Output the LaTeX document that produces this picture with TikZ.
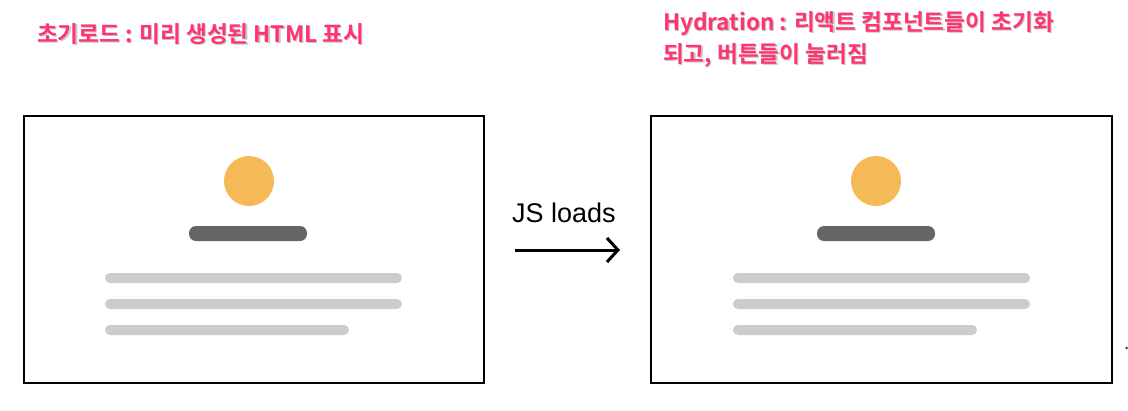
\documentclass[tikz,border=0pt]{standalone}
\usepackage{fontspec}
\setmainfont{Liberation Sans}
\newfontfamily\kr{Noto Sans CJK KR Bold}
\usetikzlibrary{arrows.meta}
\definecolor{pinktxt}{HTML}{FF3470}
\definecolor{sunorange}{HTML}{F6B957}
\definecolor{barDark}{HTML}{666666}
\definecolor{barLight}{HTML}{CCCCCC}
\tikzset{
  title/.style={anchor=base west, inner sep=0pt, text=pinktxt, font=\kr\fontsize{22.6}{27}\selectfont},
  tshadow/.style={anchor=base west, inner sep=0pt, text=black!22, font=\kr\fontsize{22.6}{27}\selectfont},
  frame/.style={draw=black, line width=1.6pt, fill=white},
  darkbar/.style={fill=barDark, rounded corners=7pt},
  lightbar/.style={fill=barLight, rounded corners=5pt},
  avatar/.style={fill=sunorange},
  flow/.style={line width=3pt, -{Straight Barb[length=11pt,width=24pt]}},
}
\begin{document}
\begin{tikzpicture}[x=1pt,y=-1pt]
\useasboundingbox[fill=white] (0,0) rectangle (1128,410);
% titles (with soft shadow)
\node[tshadow] (t1s) at (38.2,43.5) {초기로드 : 미리 생성된 HTML 표시};
\node[title] (t1) at (37,42) {초기로드 : 미리 생성된 HTML 표시};
\node[tshadow] (t2s) at (664.2,31.5) {Hydration : 리액트 컴포넌트들이 초기화};
\node[title] (t2) at (663,30) {Hydration : 리액트 컴포넌트들이 초기화};
\node[tshadow] (t3s) at (664.2,63.5) {되고, 버튼들이 눌러짐};
\node[title] (t3) at (663,62) {되고, 버튼들이 눌러짐};
% left page
\draw[frame] (24,116) rectangle (484,383);
\fill[avatar] (249,181) circle (25);
\fill[darkbar] (189,226) rectangle (307,241);
\fill[lightbar] (105,273) rectangle (402,283);
\fill[lightbar] (105,299) rectangle (402,309);
\fill[lightbar] (105,325) rectangle (349,335);
% right page
\draw[frame] (651,116) rectangle (1112,383);
\fill[avatar] (876,181) circle (25);
\fill[darkbar] (817,226) rectangle (935,241);
\fill[lightbar] (733,273) rectangle (1030,283);
\fill[lightbar] (733,299) rectangle (1030,309);
\fill[lightbar] (733,325) rectangle (977,335);
% arrow
\node[inner sep=0pt, anchor=base, font=\fontsize{27}{32}\selectfont] (js) at (564,222) {JS loads};
\coordinate (a0) at (515,250);
\coordinate (a1) at (620,250);
\draw[flow] (a0) -- (a1);
% stray mark at edge
\fill[black!70] (1126.5,348) circle (1.5);
\end{tikzpicture}
\end{document}
